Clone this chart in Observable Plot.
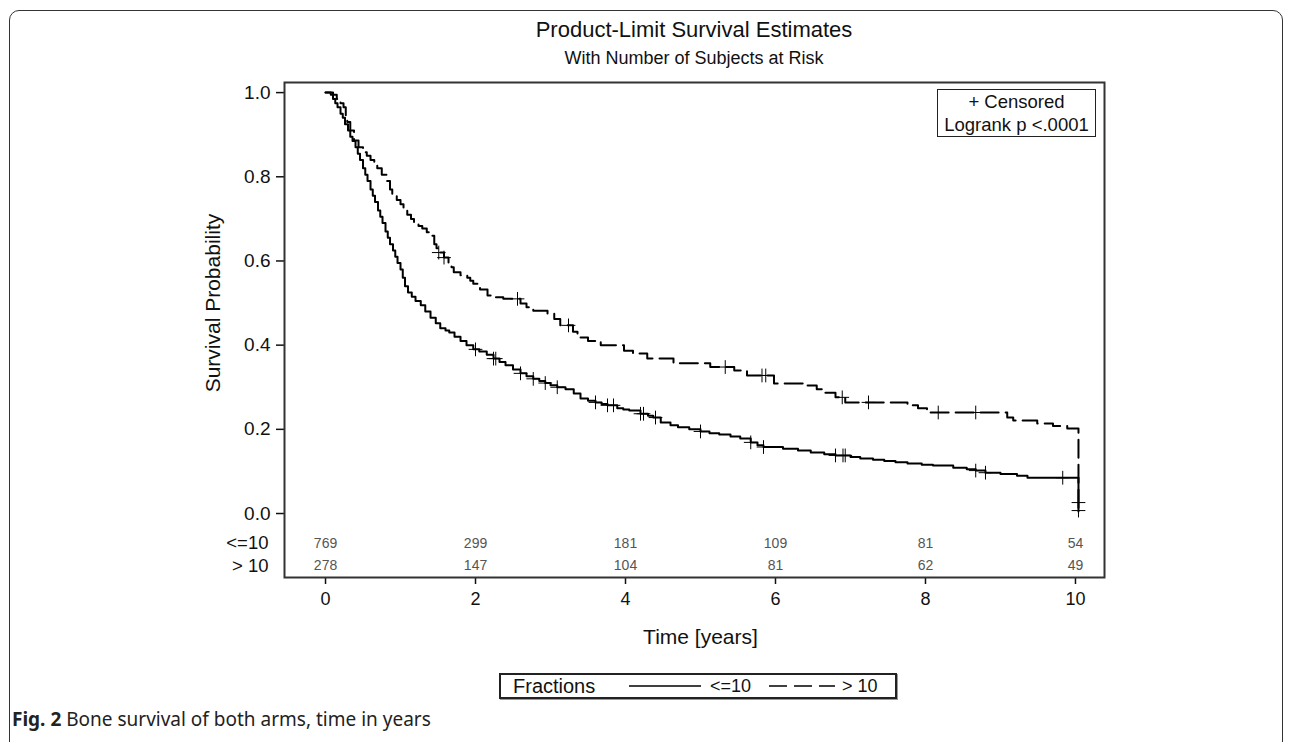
<!DOCTYPE html>
<html>
<head>
<meta charset="utf-8">
<script src="https://cdn.jsdelivr.net/npm/d3@7"></script>
<script src="https://cdn.jsdelivr.net/npm/@observablehq/plot@0.6"></script>
<style>
  html, body { margin: 0; padding: 0; background: #fff; }
  #wrap { position: relative; width: 1290px; height: 742px; overflow: hidden;
          font-family: 'Liberation Sans', Arial, sans-serif; color: #111; }
  .abs { position: absolute; }
</style>
</head>
<body>
<div id="wrap">
  <div class="abs" style="left:9px;top:10px;width:1272px;height:800px;border:1.5px solid #333;border-radius:10px;"></div>
  <div class="abs" id="title" style="left:284px;width:820px;top:17px;text-align:center;font-size:22px;line-height:26px;">Product-Limit Survival Estimates</div>
  <div class="abs" id="subtitle" style="left:284px;width:820px;top:47px;text-align:center;font-size:18px;line-height:22px;">With Number of Subjects at Risk</div>
  <div class="abs" id="chart" style="left:0;top:70px;"></div>
  <div class="abs" id="keybox" style="left:937px;top:89px;width:157px;height:46px;border:1.5px solid #222;background:#fff;text-align:center;font-size:18.5px;line-height:23px;"></div>
  <div class="abs" id="legend" style="left:499px;top:673px;width:394px;height:22px;border:2px solid #222;box-shadow:1px 1px 0 #999;background:#fff;"></div>
  <div class="abs" id="caption" style="left:12px;top:707px;font-family:'Liberation Sans Narrow','Noto Sans',sans-serif;font-size:19px;line-height:24px;color:#222;"></div>
</div>
<script>
// ---- data ----
const groups = ["<=10", "> 10"];
const xTicks = [0, 2, 4, 6, 8, 10];
const yTicks = [0, 0.2, 0.4, 0.6, 0.8, 1.0];

// Kaplan-Meier steps [time in years, survival] for group "<=10" (solid)
const lowSteps = [[0,1.0],[0.07,0.995],[0.1,0.985],[0.13,0.975],[0.16,0.965],[0.2,0.95],[0.23,0.94],[0.26,0.925],[0.3,0.91],
  [0.33,0.895],[0.36,0.885],[0.4,0.87],[0.43,0.855],[0.46,0.84],[0.5,0.82],[0.53,0.805],[0.56,0.79],[0.6,0.77],[0.63,0.755],
  [0.66,0.74],[0.7,0.72],[0.73,0.705],[0.76,0.69],[0.8,0.67],[0.83,0.655],[0.86,0.64],[0.9,0.625],[0.93,0.61],[0.96,0.595],
  [1.0,0.58],[1.03,0.56],[1.06,0.54],[1.1,0.525],[1.15,0.515],[1.2,0.505],[1.27,0.495],[1.33,0.48],[1.4,0.465],[1.47,0.452],
  [1.53,0.44],[1.6,0.435],[1.65,0.43],[1.72,0.42],[1.8,0.41],[1.88,0.40],[1.97,0.39],[2.05,0.385],[2.15,0.377],[2.24,0.368],
  [2.32,0.36],[2.4,0.352],[2.5,0.342],[2.6,0.333],[2.68,0.326],[2.77,0.32],[2.85,0.315],[2.93,0.31],[3.0,0.305],[3.09,0.30],
  [3.2,0.295],[3.31,0.285],[3.4,0.273],[3.5,0.268],[3.6,0.264],[3.68,0.26],[3.76,0.257],[3.89,0.25],[3.97,0.247],[4.05,0.245],
  [4.2,0.237],[4.3,0.232],[4.37,0.228],[4.47,0.216],[4.6,0.21],[4.7,0.205],[4.85,0.2],[5.0,0.195],[5.12,0.191],[5.25,0.188],
  [5.4,0.183],[5.53,0.178],[5.67,0.169],[5.76,0.162],[5.84,0.158],[6.1,0.154],[6.3,0.15],[6.47,0.145],[6.65,0.141],[6.8,0.138],
  [7.0,0.134],[7.13,0.131],[7.3,0.128],[7.45,0.125],[7.6,0.122],[7.76,0.119],[7.95,0.116],[8.1,0.114],[8.37,0.109],[8.55,0.105],
  [8.67,0.102],[8.8,0.097],[9.0,0.094],[9.22,0.09],[9.36,0.085],[10.04,0.005]];
const lowCensored = [[2.0,0.39],[2.24,0.368],[2.27,0.368],[2.6,0.333],[2.77,0.32],[2.93,0.31],[3.09,0.30],[3.6,0.264],
  [3.76,0.257],[3.84,0.257],[4.2,0.237],[4.24,0.237],[4.4,0.228],[5.0,0.195],[5.67,0.169],[5.84,0.158],[6.8,0.138],[6.9,0.138],
  [6.93,0.138],[8.67,0.102],[8.8,0.097],[9.83,0.085],[10.04,0.026],[10.04,0.007]];

// Kaplan-Meier steps for group "> 10" (dashed)
const highSteps = [[0,1.0],[0.1,0.995],[0.15,0.985],[0.2,0.975],[0.24,0.965],[0.27,0.945],[0.29,0.93],[0.33,0.91],[0.38,0.886],
  [0.44,0.87],[0.5,0.858],[0.55,0.85],[0.6,0.84],[0.65,0.83],[0.69,0.82],[0.75,0.805],[0.82,0.79],[0.86,0.77],[0.89,0.755],
  [0.95,0.745],[1.0,0.735],[1.04,0.725],[1.09,0.71],[1.14,0.70],[1.18,0.69],[1.24,0.683],[1.29,0.677],[1.35,0.668],[1.4,0.66],
  [1.45,0.64],[1.48,0.63],[1.51,0.62],[1.58,0.608],[1.64,0.596],[1.68,0.585],[1.71,0.573],[1.8,0.566],[1.89,0.56],[1.93,0.553],
  [1.97,0.546],[2.06,0.532],[2.16,0.518],[2.25,0.514],[2.37,0.51],[2.6,0.499],[2.68,0.49],[2.77,0.482],[2.96,0.475],[3.05,0.462],
  [3.13,0.447],[3.3,0.432],[3.36,0.418],[3.5,0.41],[3.67,0.40],[3.98,0.387],[4.1,0.38],[4.29,0.368],[4.64,0.357],[5.13,0.348],
  [5.45,0.34],[5.62,0.328],[5.98,0.309],[6.42,0.304],[6.55,0.295],[6.64,0.287],[6.8,0.276],[6.93,0.264],[7.76,0.257],[7.9,0.25],
  [8.02,0.24],[9.09,0.228],[9.17,0.221],[9.49,0.214],[9.7,0.208],[9.89,0.202],[10.04,0.0]];
const highCensored = [[1.51,0.62],[1.58,0.608],[2.56,0.51],[3.24,0.447],[5.33,0.348],[5.82,0.328],[5.87,0.328],[6.89,0.276],
  [7.24,0.264],[8.17,0.24],[8.67,0.24]];

// numbers at risk at the x ticks
const riskLow = [769, 299, 181, 109, 81, 54];
const riskHigh = [278, 147, 104, 81, 62, 49];

// ---- build tables ----
const toRows = (arr, group) => arr.map(([t, s]) => ({group, t, s}));
const lowCurve = toRows(lowSteps, groups[0]);
const highCurve = toRows(highSteps, groups[1]);
const censors = [...toRows(lowCensored, groups[0]), ...toRows(highCensored, groups[1])];

const xDomain = [-0.547, 10.387];
const yDomain = [-0.152, 1.024];
const riskRowY = [-0.071, -0.124];
const risk = [
  ...riskLow.map((n, i) => ({t: xTicks[i], row: riskRowY[0], n})),
  ...riskHigh.map((n, i) => ({t: xTicks[i], row: riskRowY[1], n}))
];

const chart = Plot.plot({
  width: 1290,
  height: 600,
  marginLeft: 284,
  marginRight: 186,
  marginTop: 12,
  marginBottom: 93,
  style: {fontFamily: "'Liberation Sans', Arial, sans-serif", background: "transparent", color: "#111", overflow: "visible"},
  x: {domain: xDomain},
  y: {domain: yDomain},
  marks: [
    Plot.axisY({ticks: yTicks, tickFormat: d3.format(".1f"), tickSize: 8, tickPadding: 6, fontSize: 19, strokeWidth: 1.5, label: null}),
    Plot.axisY({ticks: riskRowY, tickSize: 0, tickPadding: 16, fontSize: 18.5, label: null,
      tickFormat: d => groups[riskRowY.indexOf(d)]}),
    Plot.axisX({ticks: xTicks, tickSize: 7, tickPadding: 8, fontSize: 18, strokeWidth: 1.5, label: null}),
    Plot.text(risk, {x: "t", y: "row", text: "n", fontSize: 14, fill: "#555"}),
    Plot.line(lowCurve, {x: "t", y: "s", curve: "step-after", stroke: "#000", strokeWidth: 2}),
    Plot.line(highCurve, {x: "t", y: "s", curve: "step-after", stroke: "#000", strokeWidth: 2, strokeDasharray: "18,7"}),
    Plot.dot(censors, {x: "t", y: "s", symbol: "plus", r: 4.5, stroke: "#000", strokeWidth: 1}),
    Plot.frame({stroke: "#333", strokeWidth: 2}),
    Plot.text(["Time [years]"], {x: (xTicks[0] + xTicks[xTicks.length - 1]) / 2, frameAnchor: "bottom", dy: 66, fontSize: 21, text: d => d}),
    Plot.text(["Survival Probability"], {frameAnchor: "left", textAnchor: "middle", y: (yTicks[0] + yTicks[yTicks.length - 1]) / 2, dx: -71, rotate: -90, fontSize: 21, text: d => d})
  ]
});
document.getElementById("chart").appendChild(chart);

// inset key
document.getElementById("keybox").innerHTML = "+ Censored<br>Logrank p &lt;.0001";

// bottom legend
const leg = document.getElementById("legend");
leg.innerHTML = `
  <span class="abs" style="left:12px;top:-1px;font-size:20px;line-height:24px;">Fractions</span>
  <svg class="abs" style="left:128px;top:0;" width="74" height="22"><line x1="0" x2="72" y1="11" y2="11" stroke="#000" stroke-width="1.5"/></svg>
  <span class="abs" style="left:209px;top:0;font-size:18px;line-height:22px;">${groups[0]}</span>
  <svg class="abs" style="left:268px;top:0;" width="70" height="22"><line x1="0" x2="66" y1="11" y2="11" stroke="#000" stroke-width="1.5" stroke-dasharray="18,7"/></svg>
  <span class="abs" style="left:341px;top:0;font-size:18px;line-height:22px;">${groups[1]}</span>`;

document.getElementById("caption").innerHTML = "<b>Fig. 2</b> Bone survival of both arms, time in years";
</script>
</body>
</html>
